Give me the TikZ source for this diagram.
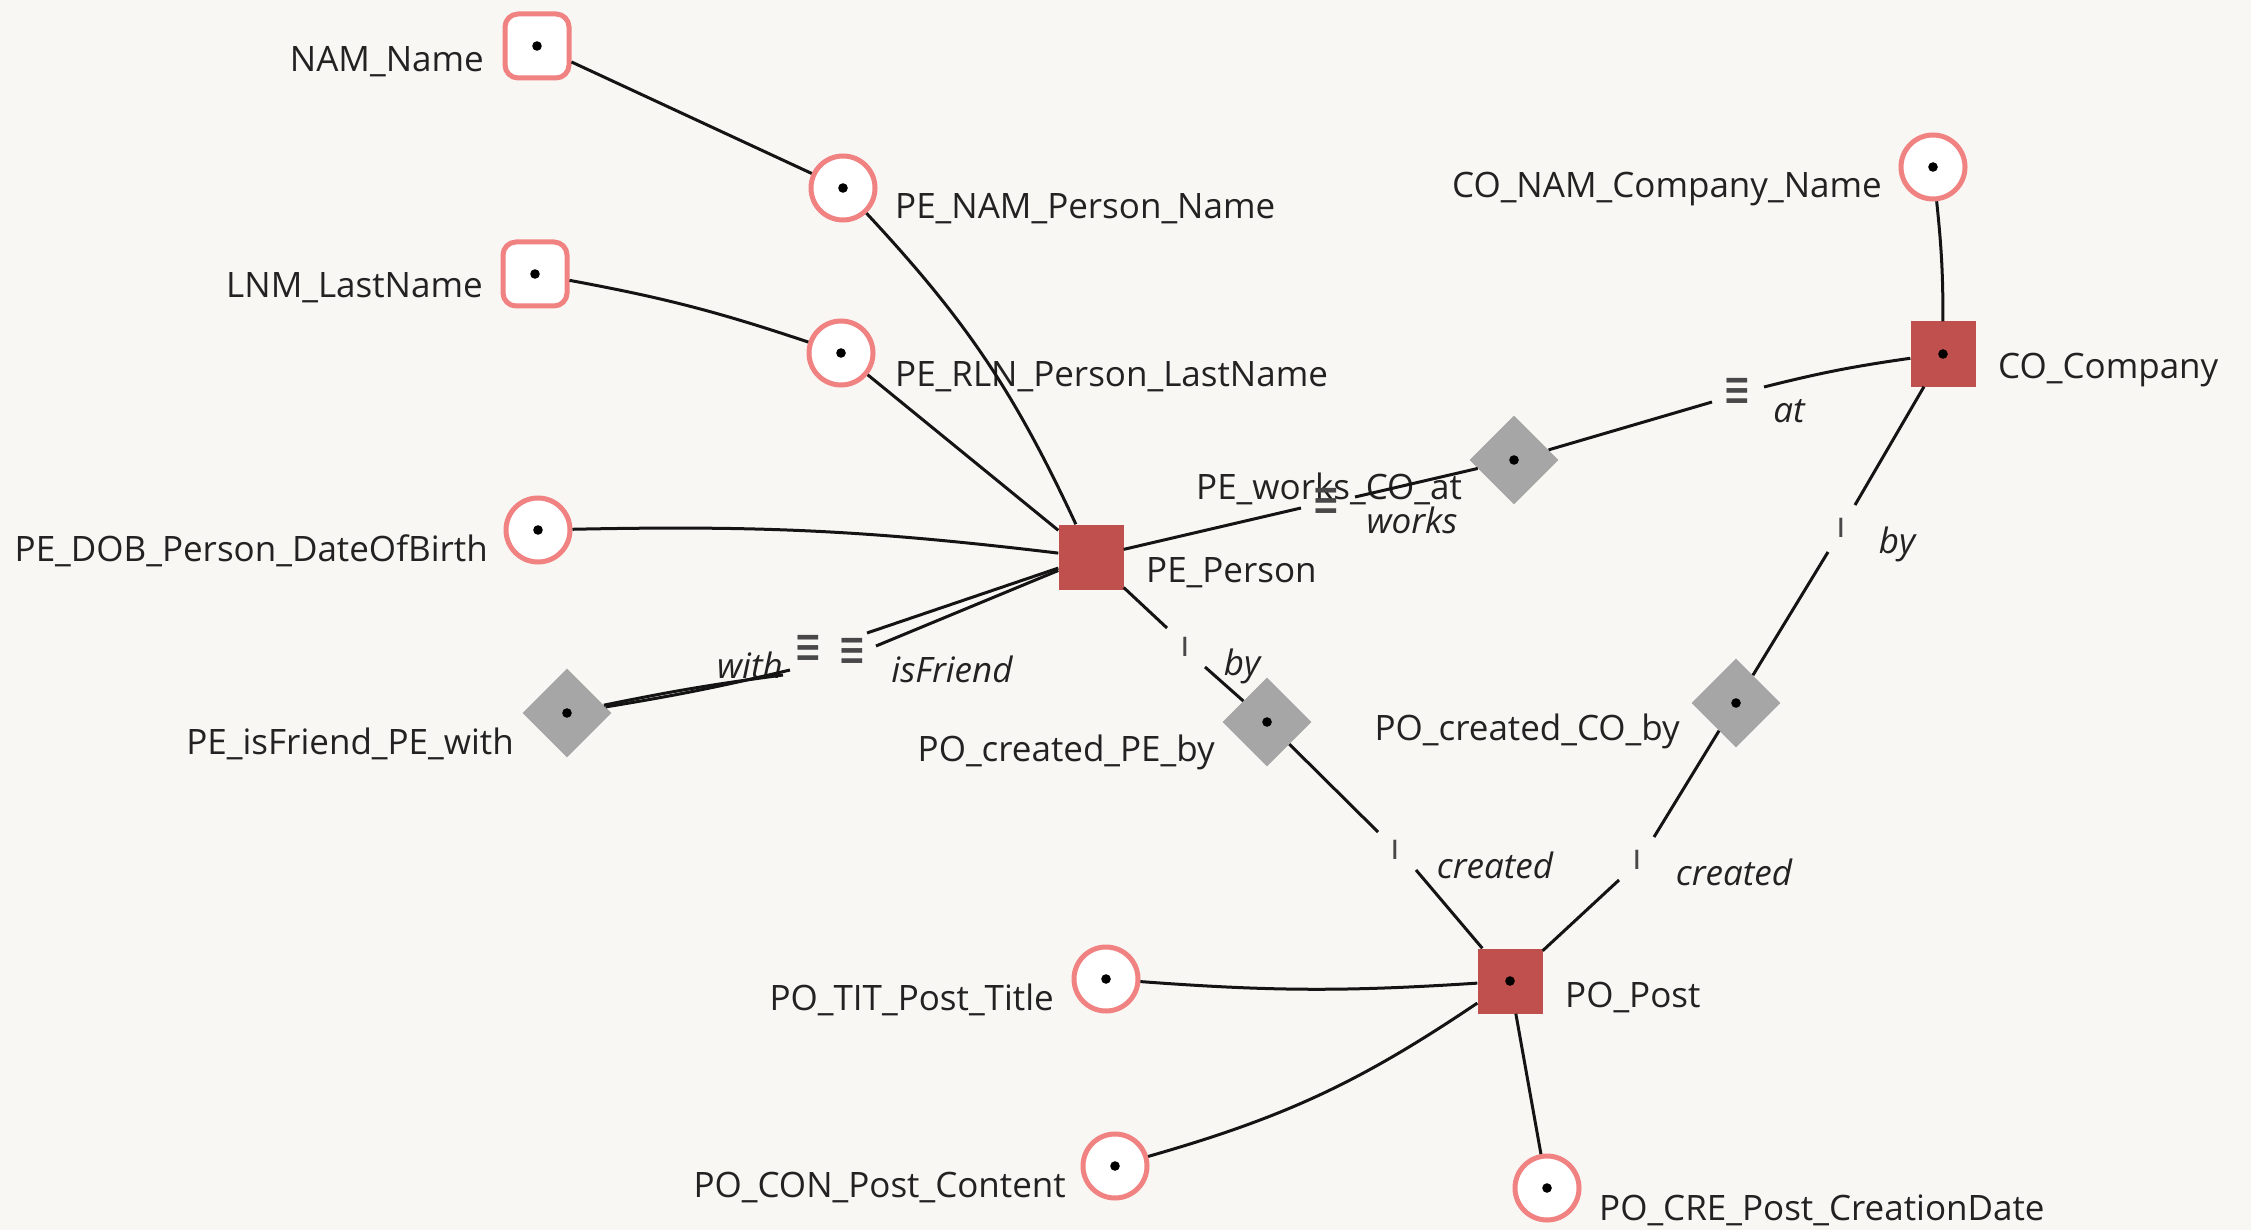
\documentclass[tikz,border=0pt]{standalone}
\usepackage{fontspec}
\setmainfont{Open Sans}
\newfontfamily\symfont{DejaVu Sans}
\usetikzlibrary{shapes.geometric}

\definecolor{canvas}{RGB}{249,247,244}
\definecolor{pinkline}{RGB}{240,130,130}
\definecolor{anchorred}{RGB}{192,80,77}
\definecolor{tiegray}{RGB}{166,166,166}
\definecolor{inkgray}{RGB}{34,34,34}
\definecolor{markgray}{RGB}{72,72,72}

\tikzset{
  withdot/.style={path picture={\fill[black] (path picture bounding box.center) circle (4.8pt);}},
  knot/.style={rectangle, rounded corners=13pt, draw=pinkline, line width=5pt,
               fill=white, minimum size=64pt, inner sep=0pt, withdot},
  attr/.style={circle, draw=pinkline, line width=5pt, fill=white,
               minimum size=64pt, inner sep=0pt, withdot},
  anchorbox/.style={rectangle, fill=anchorred, minimum size=65pt, inner sep=0pt},
  tie/.style={diamond, fill=tiegray, minimum width=89pt, minimum height=89pt,
              inner sep=0pt, withdot},
  lbl/.style={text=inkgray, inner sep=0pt, font=\fontsize{35}{42}\selectfont},
  role/.style={text=inkgray, inner sep=0pt, anchor=base, font=\fontsize{35}{42}\selectfont\itshape},
  ident/.style={text=markgray, inner sep=0pt, font=\fontsize{33}{40}\selectfont\symfont},
  single/.style={text=markgray, inner sep=0pt, font=\fontsize{36}{42}\selectfont},
  conn/.style={draw=black!92, line width=3pt},
}

\begin{document}
\begin{tikzpicture}[x=1pt, y=-1pt]
  % page
  \fill[canvas] (0,0) rectangle (2251,1230);
  \useasboundingbox (0,0) rectangle (2251,1230);

  % knots
  \node[knot] (nam) at (537,46) {};
  \node[knot] (lnm) at (535,274) {};
  % anchors
  \node[anchorbox] (pe) at (1091,557) {};
  \node[anchorbox, withdot] (co) at (1943,354) {};
  \node[anchorbox, withdot] (popost) at (1510,981) {};
  % attributes
  \node[attr] (penam) at (843,188) {};
  \node[attr] (perln) at (841,353) {};
  \node[attr] (pedob) at (538,530) {};
  \node[attr] (conam) at (1933,167) {};
  \node[attr] (potit) at (1106,979) {};
  \node[attr] (pocon) at (1115,1166) {};
  \node[attr] (pocre) at (1547,1188) {};
  % ties
  \node[tie] (isfriend) at (567,713) {};
  \node[tie] (pocpe) at (1267,722) {};
  \node[tie] (works) at (1514,460) {};
  \node[tie] (poccp) at (1736,703) {};

  % names
  \node[lbl, anchor=base east] (tnam) at (484,72) {NAM\_Name};
  \node[lbl, anchor=base west] (tpenam) at (895,219) {PE\_NAM\_Person\_Name};
  \node[lbl, anchor=base east] (tlnm) at (483,298) {LNM\_LastName};
  \node[lbl, anchor=base west] (tperln) at (895,386) {PE\_RLN\_Person\_LastName};
  \node[lbl, anchor=base east] (tpedob) at (488,561) {PE\_DOB\_Person\_DateOfBirth};
  \node[lbl, anchor=base west] (tpe) at (1146,582) {PE\_Person};
  \node[lbl, anchor=base east] (tisfriend) at (514,754) {PE\_isFriend\_PE\_with};
  \node[lbl, anchor=base east] (tpocpe) at (1215,761) {PO\_created\_PE\_by};
  \node[lbl, anchor=base west] (tworks) at (1196,499) {PE\_works\_CO\_at};
  \node[lbl, anchor=base east] (tconam) at (1882,198) {CO\_NAM\_Company\_Name};
  \node[lbl, anchor=base west] (tco) at (1998,378) {CO\_Company};
  \node[lbl, anchor=base east] (tpoccp) at (1680,740) {PO\_created\_CO\_by};
  \node[lbl, anchor=base west] (tpopost) at (1565,1007) {PO\_Post};
  \node[lbl, anchor=base east] (tpotit) at (1054,1010) {PO\_TIT\_Post\_Title};
  \node[lbl, anchor=base east] (tpocon) at (1066,1197) {PO\_CON\_Post\_Content};
  \node[lbl, anchor=base west] (tpocre) at (1599,1220) {PO\_CRE\_Post\_CreationDate};

  % roles
  \node[role] (rworks) at (1412,533) {works};
  \node[role] (rat) at (1789,422) {at};
  \node[role] (rbype) at (1242,675) {by};
  \node[role] (rcrpe) at (1495,878) {created};
  \node[role] (rbyco) at (1897,553) {by};
  \node[role] (rcrco) at (1734,885) {created};
  \node[role] (rwith) at (750,678) {with};
  \node[role] (risfriend) at (952,682) {isFriend};

  % role markers
  \node[ident] (mworks) at (1326,503) {\scalebox{1}[1.7]{≡}};
  \node[ident] (mat) at (1737,393) {\scalebox{1}[1.7]{≡}};
  \node[ident] (mwith) at (808,650) {\scalebox{1}[1.7]{≡}};
  \node[ident] (misfriend) at (852,653) {\scalebox{1}[1.7]{≡}};
  \node[single] (mbype) at (1185,647) {ı};
  \node[single] (mcrpe) at (1395,850) {ı};
  \node[single] (mbyco) at (1841,528) {ı};
  \node[single] (mcrco) at (1637,860) {ı};

  % ends of the broken role lines
  \coordinate (w1) at (1301,508);  \coordinate (w2) at (1355,497);
  \coordinate (a1) at (1712,402);  \coordinate (a2) at (1764,387);
  \coordinate (bp1) at (1167,628); \coordinate (bp2) at (1205,667);
  \coordinate (cp1) at (1378,832); \coordinate (cp2) at (1416,870);
  \coordinate (bc1) at (1855,505); \coordinate (bc2) at (1828,552);
  \coordinate (cc1) at (1654,837); \coordinate (cc2) at (1619,880);
  \coordinate (f1) at (867,633);   \coordinate (f2) at (876,646);
  \coordinate (f3) at (790,670);   \coordinate (f4) at (783,675);

  % attribute and knot connections
  \draw[conn] (nam) -- (penam);
  \draw[conn] (penam) to[bend left=9] (pe);
  \draw[conn] (lnm) to[bend left=4] (perln);
  \draw[conn] (perln) -- (pe);
  \draw[conn] (pedob) to[bend left=4] (pe);
  \draw[conn] (conam) to[bend left=3] (co);
  \draw[conn] (potit) to[bend right=4] (popost);
  \draw[conn] (pocon) to[bend right=9] (popost);
  \draw[conn] (popost) -- (pocre);

  % tie connections
  \draw[conn] (pe) -- (w1);
  \draw[conn] (w2) -- (works);
  \draw[conn] (works) -- (a1);
  \draw[conn] (a2) to[bend left=3] (co);
  \draw[conn] (pe) -- (bp1);
  \draw[conn] (bp2) -- (pocpe);
  \draw[conn] (pocpe) -- (cp1);
  \draw[conn] (cp2) -- (popost);
  \draw[conn] (co) -- (bc1);
  \draw[conn] (bc2) -- (poccp);
  \draw[conn] (poccp) -- (cc1);
  \draw[conn] (cc2) -- (popost);
  \draw[conn] (pe) -- (f1);
  \draw[conn] (pe) -- (f2);
  \draw[conn] (f3) to[bend left=2] (isfriend);
  \draw[conn] (f4) to[bend right=2] (isfriend);
\end{tikzpicture}
\end{document}
